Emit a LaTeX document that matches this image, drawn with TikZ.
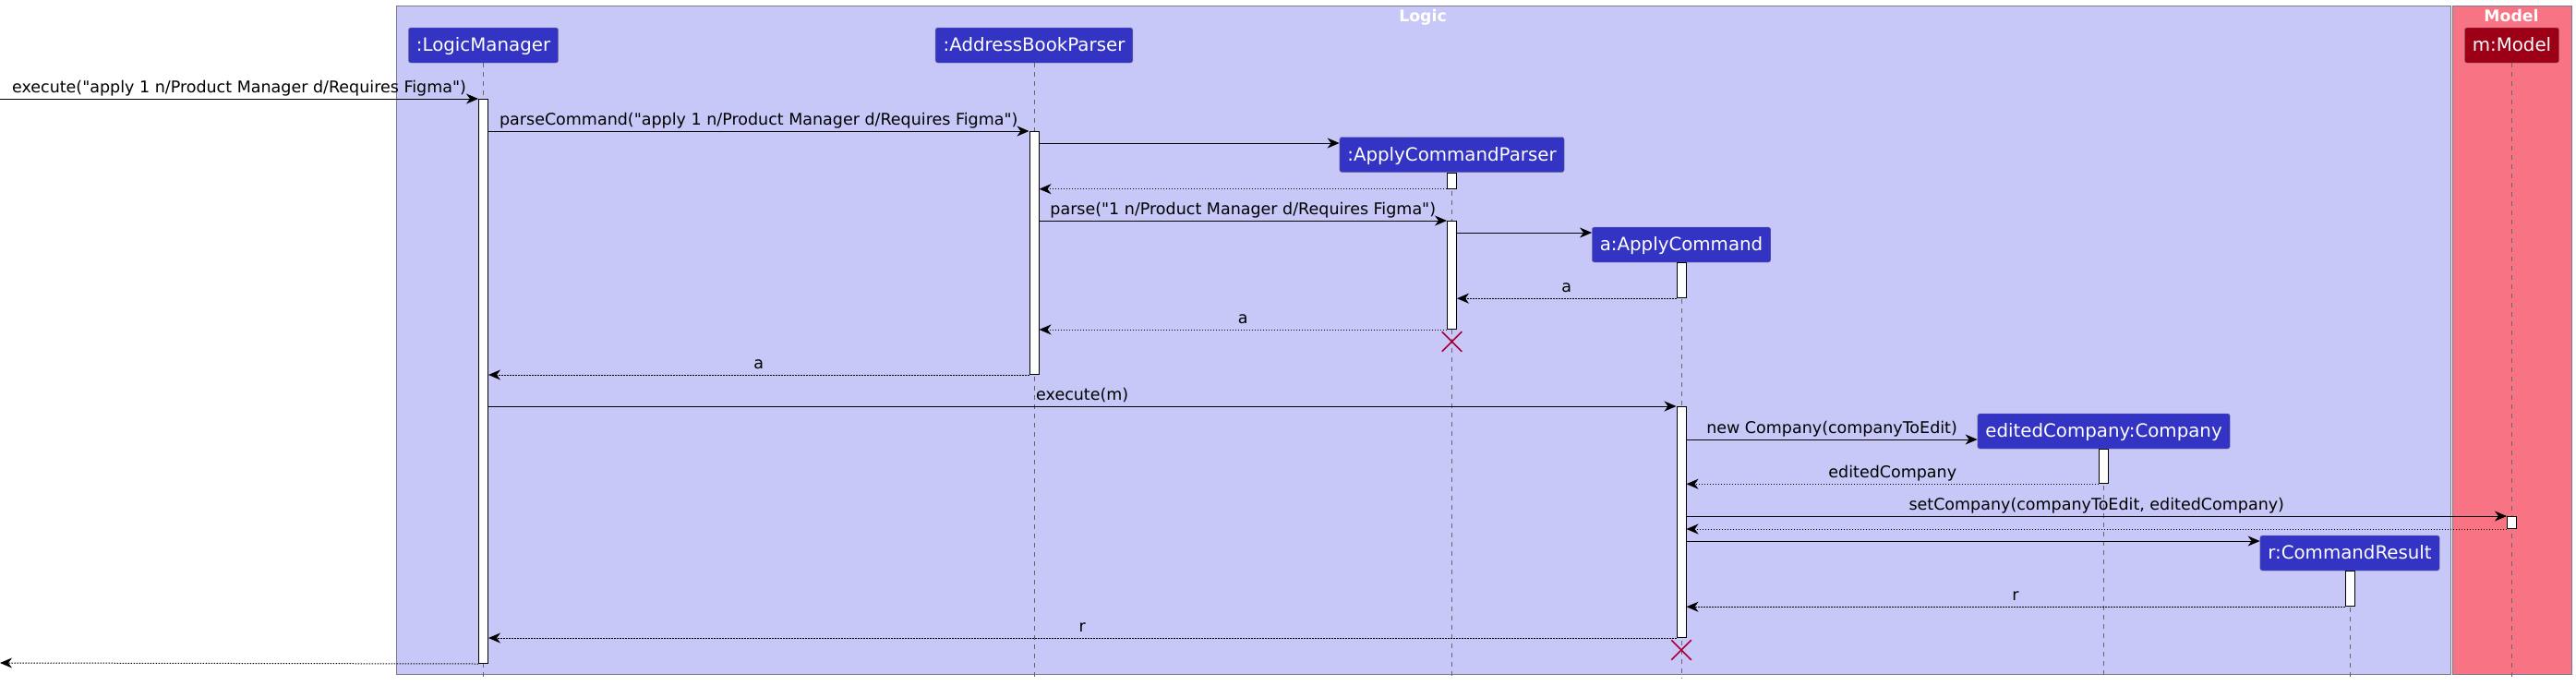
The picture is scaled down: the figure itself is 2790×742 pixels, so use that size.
\documentclass[tikz,border=0pt]{standalone}
\usepackage{fontspec}
\setmainfont{DejaVu Sans}[Ligatures=TeXOff]
\usetikzlibrary{arrows.meta, shapes.misc}
\tikzset{>={Stealth[length=13pt,width=11pt,inset=4pt]}}
\definecolor{logicbg}{HTML}{C8C8F8}
\definecolor{modelbg}{HTML}{F87383}
\definecolor{actorblue}{HTML}{3333C4}
\definecolor{modelred}{HTML}{9D0016}
\definecolor{framegray}{HTML}{7A7A8A}
\definecolor{killred}{HTML}{A80036}
\newcommand\msgfont{\fontsize{17.5}{21}\selectfont}
\newcommand\actorfont{\fontsize{19.8}{24}\selectfont}
\newcommand\titlefont{\fontsize{17.3}{21}\selectfont\bfseries}

\begin{document}
\begin{tikzpicture}[
    x = 1pt, y = -1pt,
    frame/.style = {draw=framegray, line width=1pt},
    actor/.style = {draw=framegray, fill=actorblue, rounded corners=2.5pt,
        text=white, font=\actorfont, minimum height=38pt, inner xsep=8.5pt,
        inner ysep=0pt, text height=18.4pt, text depth=4.8pt},
    life/.style = {draw=black!60, line width=0.8pt, dash pattern=on 5pt off 5pt},
    bar/.style = {draw, fill=white, line width=1pt, minimum width=10pt,
        inner sep=0pt, anchor=north},
    call/.style = {->, line width=1pt},
    reply/.style = {->, line width=1pt, dash pattern=on 1.5pt off 1.5pt},
    msg/.style = {midway, anchor=base, yshift=7pt, font=\msgfont},
    kill/.style = {cross out, draw=killred, line width=1.5pt,
        minimum size=20pt, inner sep=0pt},
    title/.style = {anchor=base, text=white, font=\titlefont}
  ]
  \useasboundingbox (0,0) rectangle (2790,742);

  \draw[frame, fill=logicbg] (429,6) rectangle (2654,730);
  \draw[frame, fill=modelbg] (2656,6) rectangle (2785,730);
  \node[title] (logict) at (1541,23) {Logic};
  \node[title] (modelt) at (2720,23) {Model};

  \node[actor] (lm) at (523.5,49) {:LogicManager};
  \node[actor] (abp) at (1120,49) {:AddressBookParser};
  \node[actor] (acp) at (1572.5,167.5) {:ApplyCommandParser};
  \node[actor] (ac) at (1821,265) {a:ApplyCommand};
  \node[actor] (ec) at (2278.5,467) {editedCompany:Company};
  \node[actor] (cr) at (2545,599) {r:CommandResult};
  \node[actor, fill=modelred] (mdl) at (2720.5,49) {m:Model};

  \foreach \p in {lm, abp, acp, ac, ec, cr, mdl}
  \draw[life] (\p.south) -- (\p.south |- 0,735);

  \node[bar, minimum height=611pt] (lmb) at (lm.south |- 0,107) {};
  \node[bar, minimum height=263pt] (abpb) at (abp.south |- 0,142) {};
  \node[bar, minimum height=17pt] (acpb1) at (acp.south) {};
  \node[bar, minimum height=117pt] (acpb2) at (acp.south |- 0,239) {};
  \node[bar, minimum height=38pt] (acb1) at (ac.south) {};
  \node[bar, minimum height=250pt] (acb2) at (ac.south |- 0,440) {};
  \node[bar, minimum height=37pt] (ecb) at (ec.south) {};
  \node[bar, minimum height=13pt] (mdlb) at (mdl.south |- 0,559) {};
  \node[bar, minimum height=38pt] (crb) at (cr.south) {};

  \coordinate (in) at (0,107);
  \coordinate (out) at (0,718);

  \draw[call] (in) -- (lmb.west |- in)
    node[msg] {execute("apply 1 n/Product Manager d/Requires Figma")};
  \draw[call] (lmb.east |- 0,142) -- (abpb.west |- 0,142)
    node[msg] {parseCommand("apply 1 n/Product Manager d/Requires Figma")};
  \draw[call] (abpb.east |- 0,155) -- (acp.west |- 0,155);
  \draw[reply] (acpb1.south west) -- (abpb.east |- acpb1.south);
  \draw[call] (abpb.east |- acpb2.north) -- (acpb2.north west)
    node[msg] {parse("1 n/Product Manager d/Requires Figma")};
  \draw[call] (acpb2.east |- 0,252) -- (ac.west |- 0,252);
  \draw[reply] (acb1.south west) -- (acpb2.east |- acb1.south) node[msg] {a};
  \draw[reply] (acpb2.south west) -- (abpb.east |- acpb2.south) node[msg] {a};
  \node[kill] (acpx) at (acp.south |- 0,370) {};
  \draw[reply] (abpb.south west) -- (lmb.east |- abpb.south) node[msg] {a};

  \draw[call] (lmb.east |- acb2.north) -- (acb2.north west) node[msg] {execute(m)};
  \draw[call] (acb2.east |- 0,476) -- (ec.west |- 0,476)
    node[msg] {new Company(companyToEdit)};
  \draw[reply] (ecb.south west) -- (acb2.east |- ecb.south) node[msg] {editedCompany};
  \draw[call] (acb2.east |- mdlb.north) -- (mdlb.north west)
    node[msg] {setCompany(companyToEdit, editedCompany)};
  \draw[reply] (mdlb.south west) -- (acb2.east |- mdlb.south);
  \draw[call] (acb2.east |- 0,586) -- (cr.west |- 0,586);
  \draw[reply] (crb.south west) -- (acb2.east |- crb.south) node[msg] {r};
  \draw[reply] (acb2.south west) -- (lmb.east |- acb2.south) node[msg] {r};
  \node[kill] (acx) at (ac.south |- 0,704) {};
  \draw[reply] (lmb.south west) -- (out);
\end{tikzpicture}
\end{document}
